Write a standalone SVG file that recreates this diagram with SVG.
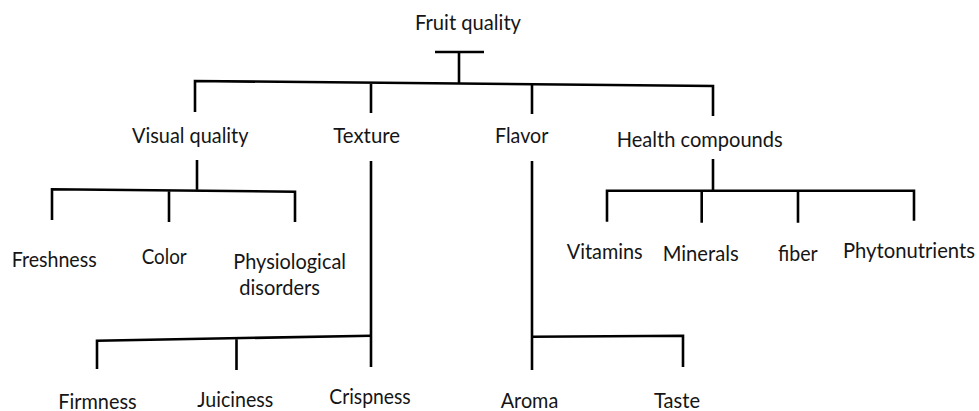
<svg xmlns="http://www.w3.org/2000/svg" width="979" height="411" viewBox="0 0 979 411">
<style>
  .lbl { font-family: Lato, "Liberation Sans", sans-serif; font-size: 21px; fill: #151515; }
  .ln { fill: none; stroke: #000; stroke-width: 2.6; stroke-linecap: butt; stroke-linejoin: miter; }
</style>
<rect width="979" height="411" fill="#fff"/>
<g id="connectors">
  <path class="ln" d="M435,52 H484 M459,52 V83"/>
  <path class="ln" d="M195,112 V81 L713,86 V116 M371,82.7 V113 M532,84.3 V114"/>
  <path class="ln" d="M197,160 V189.8"/>
  <path class="ln" d="M52,220 V189.3 L295,191.7 V222 M169,190.5 V222"/>
  <path class="ln" d="M371,161 V367"/>
  <path class="ln" d="M97,369 V340.7 L371,335.7 M236.5,338.3 V370"/>
  <path class="ln" d="M532,161 V370 M532,336.7 L683,335.7 V367"/>
  <path class="ln" d="M713,159 V190.7"/>
  <path class="ln" d="M607,221.7 V190.7 H914 V220.7 M701.7,190.7 V222.7 M798,190.7 V222.7"/>
</g>
<g id="n-fruit-quality"><text class="lbl" x="415" y="30" textLength="106" lengthAdjust="spacingAndGlyphs">Fruit quality</text></g>
<g id="n-visual-quality"><text class="lbl" x="132" y="143.3" textLength="116.5" lengthAdjust="spacingAndGlyphs">Visual quality</text></g>
<g id="n-texture"><text class="lbl" x="333.3" y="143.3" textLength="66.7" lengthAdjust="spacingAndGlyphs">Texture</text></g>
<g id="n-flavor"><text class="lbl" x="495" y="143.3" textLength="53.3" lengthAdjust="spacingAndGlyphs">Flavor</text></g>
<g id="n-health-compounds"><text class="lbl" x="616.7" y="147.3" textLength="166" lengthAdjust="spacingAndGlyphs">Health compounds</text></g>
<g id="n-freshness"><text class="lbl" x="11.7" y="266.7" textLength="85" lengthAdjust="spacingAndGlyphs">Freshness</text></g>
<g id="n-color"><text class="lbl" x="141.7" y="264" textLength="45" lengthAdjust="spacingAndGlyphs">Color</text></g>
<g id="n-physiological-disorders">
  <text class="lbl" x="233.3" y="269.3" textLength="112.7" lengthAdjust="spacingAndGlyphs">Physiological</text>
  <text class="lbl" x="239.3" y="295" textLength="80.7" lengthAdjust="spacingAndGlyphs">disorders</text>
</g>
<g id="n-vitamins"><text class="lbl" x="566.7" y="259" textLength="76" lengthAdjust="spacingAndGlyphs">Vitamins</text></g>
<g id="n-minerals"><text class="lbl" x="662.7" y="261" textLength="76" lengthAdjust="spacingAndGlyphs">Minerals</text></g>
<g id="n-fiber"><text class="lbl" x="778" y="261" textLength="39.7" lengthAdjust="spacingAndGlyphs">fiber</text></g>
<g id="n-phytonutrients"><text class="lbl" x="843" y="258" textLength="132" lengthAdjust="spacingAndGlyphs">Phytonutrients</text></g>
<g id="n-firmness"><text class="lbl" x="58.3" y="408.5" textLength="78.4" lengthAdjust="spacingAndGlyphs">Firmness</text></g>
<g id="n-juiciness"><text class="lbl" x="197.3" y="406.5" textLength="76" lengthAdjust="spacingAndGlyphs">Juiciness</text></g>
<g id="n-crispness"><text class="lbl" x="329.3" y="404.3" textLength="81.4" lengthAdjust="spacingAndGlyphs">Crispness</text></g>
<g id="n-aroma"><text class="lbl" x="500.7" y="407.5" textLength="57.6" lengthAdjust="spacingAndGlyphs">Aroma</text></g>
<g id="n-taste"><text class="lbl" x="654" y="407.5" textLength="46" lengthAdjust="spacingAndGlyphs">Taste</text></g>
</svg>
